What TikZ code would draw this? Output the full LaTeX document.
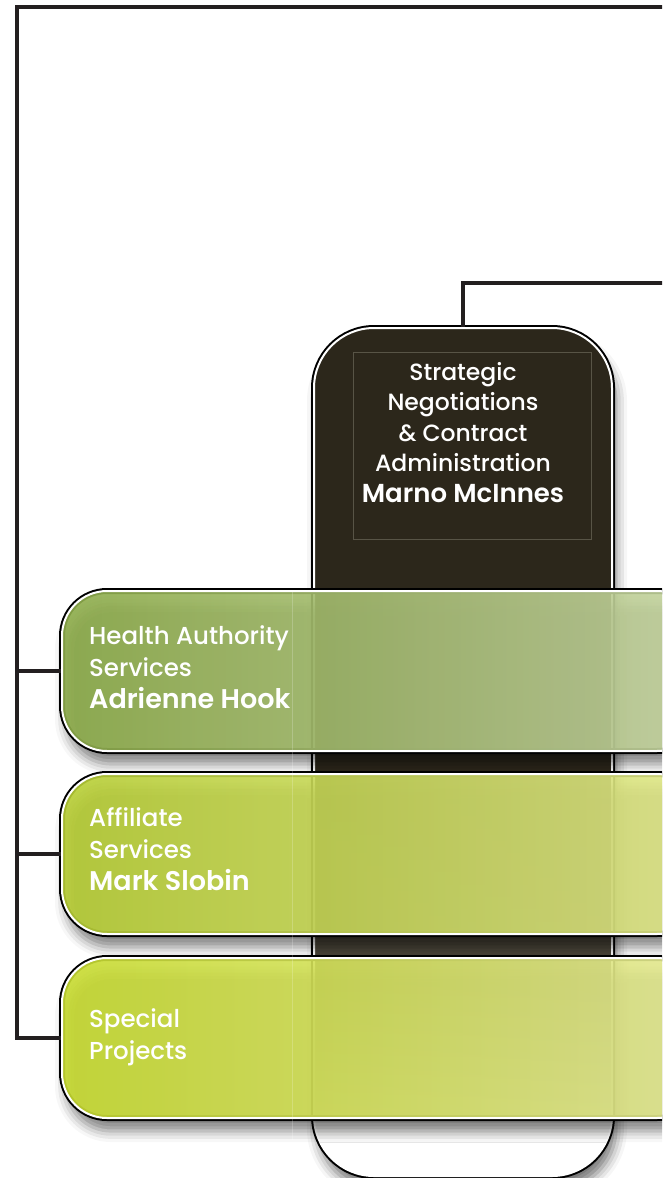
\documentclass[tikz,border=0pt]{standalone}
\usepackage{fontspec}
\setmainfont{Poppins}[UprightFont=* Medium, BoldFont=* SemiBold]
\usepackage{tikz}
\usetikzlibrary{shadows.blur}

\definecolor{wirecol}{RGB}{35,31,32}
\definecolor{darkbox}{RGB}{44,39,27}
\definecolor{darkmid}{RGB}{74,69,57}
\definecolor{framecol}{RGB}{88,84,70}
\definecolor{hasL}{RGB}{141,172,74}
\definecolor{hasR}{RGB}{198,213,162}
\definecolor{affL}{RGB}{183,206,52}
\definecolor{affR}{RGB}{224,231,138}
\definecolor{specL}{RGB}{200,220,48}
\definecolor{specR}{RGB}{228,233,148}

% dark panel fades out towards the bottom
\pgfdeclareverticalshading{sncafade}{100bp}{color(0bp)=(white); color(25bp)=(white);
  color(27bp)=(white); color(38bp)=(darkmid); color(49bp)=(darkbox);
  color(75bp)=(darkbox); color(100bp)=(darkbox)}

\tikzset{
  wire/.style={line width=4.5pt, draw=wirecol},
  panel/.style={rectangle, draw=white, line width=2pt,
    preaction={draw=black, line width=6pt},
    blur shadow={shadow xshift=4pt, shadow yshift=-13pt, shadow blur radius=11pt, shadow opacity=55}},
  band/.style={panel, rounded corners=45pt, minimum width=640pt, minimum height=160pt, fill opacity=.9},
  unit/.style={text=white, align=left, anchor=north west, inner sep=0pt,
    font=\fontsize{24.5}{32}\selectfont},
}

\begin{document}
\begin{tikzpicture}[x=1pt, y=-1pt]
  \useasboundingbox (0,0) rectangle (662,1178);
  \clip (0,0) rectangle (662,1178);

  % contract administration column
  \node [panel, rounded corners=60pt, minimum width=298pt, minimum height=848pt,
    shading=sncafade] (snca) at (463,752) {};
  \draw [framecol, line width=.8pt] (353,352) rectangle (591,539);
  \node [text=white, align=center, inner sep=0pt, anchor=north,
    font=\fontsize{23.5}{30.5}\selectfont] (sncaText) at (463,362)
    {Strategic\\Negotiations\\\& Contract\\Administration\\
    {\fontsize{26}{32}\selectfont\bfseries Marno McInnes}};

  % service bands
  \node [band, left color=hasL, right color=hasR] (has) at (382,671) {};
  \node [band, left color=affL, right color=affR] (aff) at (382,854) {};
  \node [band, left color=specL, right color=specR] (spec) at (382,1038) {};
  \draw [white, opacity=.2, line width=.8pt] (292,590) -- (292,1140);

  \node [unit] (hasText) at (89,625)
    {Health Authority\\Services\\{\fontsize{27}{32}\selectfont\bfseries Adrienne Hook}};
  \node [unit] (affText) at (89,807)
    {Affiliate\\Services\\{\fontsize{27}{32}\selectfont\bfseries Mark Slobin}};
  \node [unit] (specText) at (89,1008) {Special\\Projects};

  % reporting lines
  \coordinate (topend) at (680,7);
  \coordinate (rail) at (17,7);
  \coordinate (midend) at (680,283);
  \draw [wire] (topend) -- (rail) |- (spec.west);
  \draw [wire] (rail |- has.west) -- (has.west);
  \draw [wire] (rail |- aff.west) -- (aff.west);
  \draw [wire] (snca.north) |- (midend);
\end{tikzpicture}
\end{document}
